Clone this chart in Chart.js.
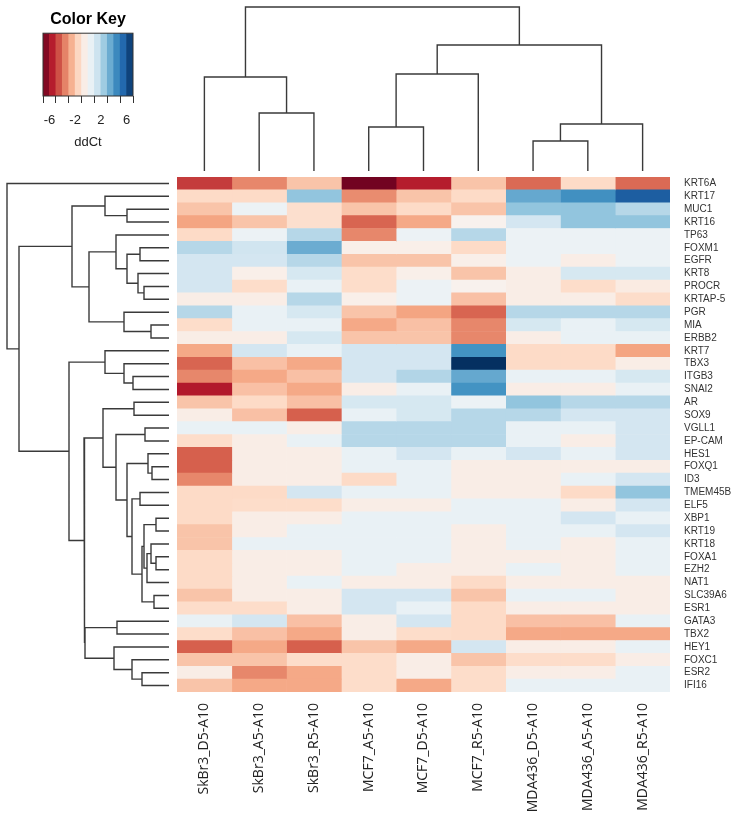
<!DOCTYPE html>
<html>
<head>
<meta charset="utf-8">
<script src="https://cdn.jsdelivr.net/npm/chart.js@4.4.0/dist/chart.umd.min.js"></script>
<style>
  html, body { margin: 0; padding: 0; background: #fff; }
  body { width: 739px; height: 830px; position: relative; overflow: hidden; }
  canvas { position: absolute; }
</style>
</head>
<body>
<canvas id="key" width="177" height="160" style="left:0;top:0"></canvas>
<canvas id="colTree" width="493" height="177" style="left:177px;top:0"></canvas>
<canvas id="rowTree" width="177" height="515" style="left:0;top:177px"></canvas>
<!-- the right axis reserves 20px above the plot for its labels, so the canvas starts 20px higher -->
<canvas id="heat" width="562" height="673" style="left:177px;top:157px"></canvas>
<script>
// samples (columns) and genes (rows), in dendrogram order
const samples = ['SkBr3_D5-A10', 'SkBr3_A5-A10', 'SkBr3_R5-A10', 'MCF7_A5-A10', 'MCF7_D5-A10',
  'MCF7_R5-A10', 'MDA436_D5-A10', 'MDA436_A5-A10', 'MDA436_R5-A10']
const genes = ['KRT6A', 'KRT17', 'MUC1', 'KRT16', 'TP63', 'FOXM1', 'EGFR', 'KRT8', 'PROCR', 'KRTAP-5',
  'PGR', 'MIA', 'ERBB2', 'KRT7', 'TBX3', 'ITGB3', 'SNAI2', 'AR', 'SOX9', 'VGLL1',
  'EP-CAM', 'HES1', 'FOXQ1', 'ID3', 'TMEM45B', 'ELF5', 'XBP1', 'KRT19', 'KRT18', 'FOXA1',
  'EZH2', 'NAT1', 'SLC39A6', 'ESR1', 'GATA3', 'TBX2', 'HEY1', 'FOXC1', 'ESR2', 'IFI16']

// ddCt per sample, one value per gene (same order as genes)
const skbr3D5 = [-4.9, -1.4, -2.0, -2.8, -1.4, 2.0, 1.3, 1.3, 1.3, -0.5, 2.0, -1.3, -0.5, -2.7, -4.1, -3.4, -5.6, -2.0, -0.5, 0.5,
  -1.3, -4.2, -4.2, -3.4, -1.4, -1.4, -1.4, -2.0, -2.0, -1.4, -1.4, -1.4, -2.0, -1.3, 0.5, -1.3, -4.2, -2.0, -0.5, -2.0]
const skbr3A5 = [-3.4, -1.4, 0.4, -2.0, 0.4, 1.4, 1.3, -0.4, -1.3, -0.5, 0.5, 0.5, -0.5, 1.3, -2.1, -2.7, -2.1, -1.4, -2.1, 0.5,
  -0.5, -0.5, -0.5, -0.5, -1.4, -1.3, -0.5, -0.5, 0.5, -0.5, -0.5, -0.5, -0.5, -1.3, 1.3, -2.1, -2.7, -2.0, -3.4, -2.7]
const skbr3R5 = [-2.0, 2.8, -1.2, -1.2, 2.0, 3.5, 2.0, 1.2, 0.5, 2.0, 1.2, 0.5, 1.2, 0.5, -2.7, -2.1, -2.7, -2.1, -4.2, -0.5,
  0.5, -0.5, -0.5, -0.5, 1.3, -1.3, -0.5, 0.5, 0.5, -0.5, -0.5, 0.5, -0.5, -0.5, -2.1, -2.7, -4.2, -1.3, -2.7, -2.7]
const mcf7A5 = [-6.8, -3.3, -2.0, -4.1, -3.4, -0.4, -2.0, -1.3, -1.3, -0.4, -2.0, -2.7, -2.0, 1.3, 1.3, 1.3, -0.5, 1.2, 0.5, 2.0,
  2.0, 0.5, 0.5, -1.4, 0.5, -0.5, 0.5, 0.5, 0.5, 0.5, 0.5, -0.5, 1.3, 1.3, -0.5, -0.5, -2.0, -1.3, -1.3, -1.3]
const mcf7D5 = [-5.5, -2.0, -1.4, -2.7, 0.4, -0.4, -2.0, -0.4, 0.4, 0.4, -2.8, -2.1, -2.0, 1.3, 1.3, 2.1, 0.5, 1.2, 1.2, 2.0,
  2.0, 1.3, 0.5, 0.5, 0.5, -0.5, 0.5, 0.5, 0.5, 0.5, -0.5, -0.5, 1.3, 0.5, 1.3, -1.3, -2.7, -0.5, -0.5, -2.7]
const mcf7R5 = [-2.0, -1.4, -2.0, -0.3, 2.0, -1.4, -0.4, -2.0, -0.3, -2.1, -4.1, -3.4, -3.4, 4.2, 7.0, 3.6, 4.2, 0.4, 2.0, 2.0,
  2.0, 0.5, -0.5, -0.5, -0.5, 0.5, 0.5, -0.5, -0.5, -0.5, -0.5, -1.4, -2.0, -1.4, -1.4, -1.4, 1.3, -2.0, -1.3, -1.3]
const mda436D5 = [-4.0, 3.6, 2.8, 1.3, 0.4, 0.4, 0.4, -0.5, -0.5, -0.5, 2.0, 1.2, -0.5, -1.4, -1.4, 0.5, -0.5, 2.8, 2.0, 0.5,
  0.5, 1.3, -0.5, -0.5, -0.5, 0.5, 0.5, 0.5, 0.5, -0.5, 0.5, -0.5, 0.5, -0.5, -2.1, -2.7, -0.5, -1.3, -0.5, 0.5]
const mda436A5 = [-1.4, 4.3, 2.8, 2.8, 0.4, 0.4, -0.5, 1.2, -1.3, -0.5, 2.0, 0.5, 0.5, -1.4, -1.4, 0.5, -0.5, 2.0, 1.3, 0.5,
  -0.5, 0.5, -0.5, 0.5, -1.4, -0.5, 1.3, 0.5, -0.5, -0.5, -0.5, -0.5, 0.5, -0.5, -2.1, -2.7, -0.5, -1.3, -0.5, 0.5]
const mda436R5 = [-4.0, 5.8, 2.0, 2.8, 0.4, 0.4, 0.4, 1.2, -0.6, -1.3, 2.0, 1.2, 0.5, -2.8, -0.5, 1.2, 0.5, 2.0, 1.3, 1.3,
  1.3, 1.3, -0.5, 1.3, 2.8, 1.3, 0.5, 1.3, 0.5, 0.5, 0.5, -0.5, -0.5, -0.5, 0.5, -2.7, 0.5, -0.5, 0.5, 0.5]
const columns = [skbr3D5, skbr3A5, skbr3R5, mcf7A5, mcf7D5, mcf7R5, mda436D5, mda436A5, mda436R5]

// column dendrogram: [left, right, height], numbers point at earlier merges
const colMerges = [
  ['SkBr3_A5-A10', 'SkBr3_R5-A10', 5.8],
  ['SkBr3_D5-A10', 0, 9.4],
  ['MCF7_A5-A10', 'MCF7_D5-A10', 4.4],
  [2, 'MCF7_R5-A10', 9.7],
  ['MDA436_D5-A10', 'MDA436_A5-A10', 3.0],
  [4, 'MDA436_R5-A10', 4.7],
  [3, 5, 12.6],
  [1, 6, 16.4]
]
// row dendrogram
const rowMerges = [
  ['MUC1', 'KRT16', 4.2], ['KRT17', 0, 6.4], ['FOXM1', 'EGFR', 2.9], ['PROCR', 'KRTAP-5', 2.5],
  ['KRT8', 3, 3.1], [2, 4, 4.2], ['TP63', 5, 5.3], ['MIA', 'ERBB2', 1.8], ['PGR', 7, 4.5],
  [6, 8, 8.0], [1, 9, 9.7], ['ITGB3', 'SNAI2', 3.6], ['TBX3', 11, 4.5], ['KRT7', 12, 6.4],
  ['AR', 'SOX9', 3.5], ['VGLL1', 'EP-CAM', 2.4], ['FOXQ1', 'ID3', 1.7], ['HES1', 16, 2.1],
  ['TMEM45B', 'ELF5', 2.9], ['XBP1', 'KRT19', 1.3], ['FOXA1', 'EZH2', 1.3], ['KRT18', 20, 1.8],
  [21, 'NAT1', 2.2], [19, 22, 2.5], ['SLC39A6', 'ESR1', 1.5], [23, 24, 2.7], [18, 25, 3.7],
  [17, 26, 4.2], [15, 27, 5.3], [14, 28, 6.6], ['GATA3', 'TBX2', 5.2], ['ESR2', 'IFI16', 2.7],
  ['FOXC1', 31, 3.7], ['HEY1', 32, 5.5], [30, 33, 8.4], [29, 34, 8.5], [13, 35, 10.0],
  [10, 36, 15.0], ['KRT6A', 37, 16.2]
]

// color key
const keyBands = [-6.5, -5.5, -4.5, -3.5, -2.5, -1.5, -0.5, 0.5, 1.5, 2.5, 3.5, 4.5, 5.5, 6.5]
const keyTicks = [-6, -4, -2, 0, 2, 4, 6]
const keyTickLabels = [-6, -2, 2, 6]

const rdbu = ['#67001f', '#b2182b', '#d6604d', '#f4a582', '#fddbc7', '#f7f7f7',
  '#d1e5f0', '#92c5de', '#4393c3', '#2166ac', '#053061']
const hex = h => [1, 3, 5].map(i => parseInt(h.substr(i, 2), 16))

function ddctColor(v){
    const t = Math.min(Math.max((v + 7) / 14, 0), 1) * (rdbu.length - 1)
    const i = Math.min(Math.floor(t), rdbu.length - 2)
    const f = t - i
    const a = hex(rdbu[i]), b = hex(rdbu[i + 1])
    const c = a.map((x, k) => Math.round(x + (b[k] - x) * f))
    return `rgb(${c[0]},${c[1]},${c[2]})`
}

// segments of a dendrogram as {p: leaf position, h: height}, null breaks the line
function dendroPath(merges, leaves){
    const nodes = []
    const path = []
    const at = ref => typeof ref === 'number' ? nodes[ref] : { p: leaves.indexOf(ref) + 0.5, h: 0 }
    merges.forEach(([a, b, h]) => {
        const A = at(a), B = at(b)
        path.push({ p: A.p, h: A.h }, { p: A.p, h }, { p: B.p, h }, { p: B.p, h: B.h }, { p: null, h: null })
        nodes.push({ p: (A.p + B.p) / 2, h })
    })
    return path
}

Chart.defaults.font.family = '"Liberation Sans", Arial, sans-serif'
Chart.defaults.animation = false
Chart.defaults.responsive = false
Chart.defaults.plugins.legend.display = false
Chart.defaults.plugins.tooltip.enabled = false

const treeLine = { borderColor: '#3a3a3a', borderWidth: 1.4, pointRadius: 0, showLine: true, spanGaps: false, clip: false }

// color key
const keyFrame = {
    id: 'keyFrame',
    afterDatasetsDraw(chart){
        const { ctx, chartArea: a } = chart
        ctx.save()
        ctx.strokeStyle = '#333'
        ctx.lineWidth = 1
        ctx.strokeRect(a.left, a.top, a.right - a.left, a.bottom - a.top)
        ctx.restore()
    }
}

new Chart(document.getElementById('key'), {
    type: 'bar',
    data: {
        datasets: [{
            data: keyBands.map(v => ({ x: v, y: 1 })),
            backgroundColor: keyBands.map(ddctColor),
            borderWidth: 0,
            barPercentage: 1,
            categoryPercentage: 1
        }]
    },
    options: {
        layout: { padding: { left: 43, right: 44 } },
        plugins: {
            title: {
                display: true,
                text: 'Color Key',
                color: '#000',
                font: { size: 16, weight: 'bold' },
                padding: { top: 10, bottom: 4 }
            }
        },
        scales: {
            x: {
                type: 'linear', min: -7, max: 7, offset: false,
                afterBuildTicks: s => { s.ticks = keyTicks.map(v => ({ value: v })) },
                afterFit: s => { s.height = 64 },
                grid: { display: true, drawOnChartArea: false, drawTicks: true, tickLength: 7, color: '#333' },
                border: { display: false },
                ticks: {
                    color: '#222', font: { size: 13 }, padding: 10, autoSkip: false, maxRotation: 0,
                    callback: v => keyTickLabels.includes(v) ? String(v) : ''
                },
                title: { display: true, text: 'ddCt', color: '#222', font: { size: 13 }, padding: { top: 0, bottom: 10 } }
            },
            y: { display: false, min: 0, max: 1 }
        }
    },
    plugins: [keyFrame]
})

// column dendrogram
new Chart(document.getElementById('colTree'), {
    type: 'scatter',
    data: { datasets: [{ ...treeLine, data: dendroPath(colMerges, samples).map(d => ({ x: d.p, y: d.h })) }] },
    options: {
        layout: { padding: { top: 7, bottom: 6, left: 0, right: 0 } },
        scales: {
            x: { type: 'linear', display: false, min: 0, max: samples.length },
            y: { type: 'linear', display: false, min: 0, max: 16.4 }
        }
    }
})

// row dendrogram
new Chart(document.getElementById('rowTree'), {
    type: 'scatter',
    data: { datasets: [{ ...treeLine, data: dendroPath(rowMerges, genes).map(d => ({ x: d.h, y: d.p })) }] },
    options: {
        layout: { padding: { top: 0, bottom: 0, left: 7, right: 8 } },
        scales: {
            x: { type: 'linear', display: false, reverse: true, min: 0, max: 16.2 },
            y: { type: 'linear', display: false, reverse: true, min: 0, max: genes.length }
        }
    }
})

// heatmap: one dataset per sample, floating bars spanning its column
new Chart(document.getElementById('heat'), {
    type: 'bar',
    data: {
        labels: genes,
        datasets: samples.map((s, j) => ({
            label: s,
            data: genes.map(() => [j, j + 1]),
            backgroundColor: columns[j].map(ddctColor),
            borderWidth: 0,
            grouped: false,
            barPercentage: 1,
            categoryPercentage: 1
        }))
    },
    options: {
        indexAxis: 'y',
        layout: { padding: 0 },
        scales: {
            y: {
                type: 'category', position: 'right',
                grid: { display: false, drawTicks: false },
                border: { display: false },
                ticks: { color: '#333', font: { size: 10 }, padding: 14, autoSkip: false },
                afterFit: s => { s.width = 69 }
            },
            x: {
                type: 'linear', position: 'bottom', min: 0, max: samples.length,
                grid: { display: false, drawTicks: false },
                border: { display: false },
                afterBuildTicks: s => { s.ticks = samples.map((_, j) => ({ value: j + 0.5 })) },
                ticks: {
                    autoSkip: false, maxRotation: 90, minRotation: 90, padding: 11,
                    color: '#222', font: { family: '"Open Sans", sans-serif', size: 14 },
                    callback: (v, i) => samples[i]
                },
                afterFit: s => { s.height = 138 }
            }
        }
    }
})
</script>
</body>
</html>
